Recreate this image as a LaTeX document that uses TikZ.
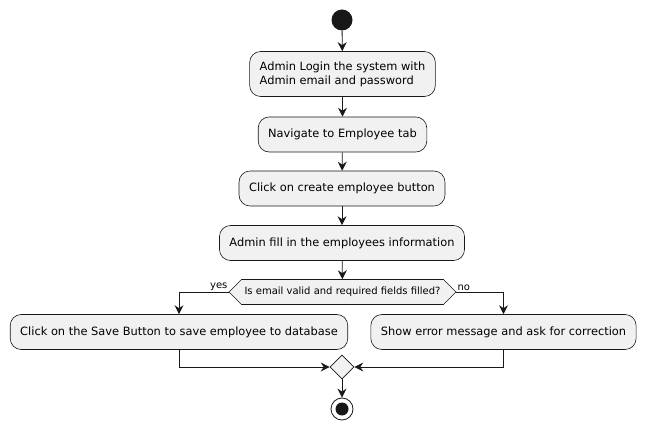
\documentclass[tikz,border=0pt]{standalone}
\usepackage{fontspec}
\setmainfont{DejaVu Sans}
\usetikzlibrary{arrows.meta,shapes.geometric,shapes.symbols}

\definecolor{actfill}{HTML}{F1F1F1}
\definecolor{actline}{HTML}{181818}

\tikzset{
  action/.style={draw=actline, fill=actfill, line width=0.6pt, rounded corners=11pt,
    minimum height=35pt, inner xsep=10pt, inner ysep=10pt, align=left, font=\fontsize{11.4}{14}\selectfont},
  choice/.style={draw=actline, fill=actfill, line width=0.6pt, shape=signal,
    signal to=west and east, minimum height=25pt, inner xsep=3pt, font=\fontsize{10}{12}\selectfont},
  merge/.style={draw=actline, fill=actfill, line width=0.6pt, diamond, inner sep=0pt,
    minimum width=24pt, minimum height=24pt},
  flow/.style={draw=actline, line width=0.8pt, -{Stealth[length=9pt,width=9pt,inset=3pt]}},
  branch/.style={font=\fontsize{10}{12}\selectfont, inner sep=1pt},
}

\begin{document}
\begin{tikzpicture}[x=1pt, y=-1pt]
    \useasboundingbox (0,0) rectangle (648,430);

    % Start point
    \node[circle, fill=actline, minimum size=21pt, inner sep=0pt] (start) at (342,20) {};

    % Actions down the middle
    \node[action] (login) at (342.5,74) {Admin Login the system with\\Admin email and password};
    \node[action] (navigate) at (342.5,134.5) {Navigate to Employee tab};
    \node[action] (create) at (342,188.5) {Click on create employee button};
    \node[action] (fill) at (342,243) {Admin fill in the employees information};

    % The check
    \node[choice] (check) at (342.5,292) {Is email valid and required fields filled?};

    % The two outcomes
    \node[action] (save) at (179,332) {Click on the Save Button to save employee to database};
    \node[action] (error) at (503.5,332) {Show error message and ask for correction};

    % Merge and stop
    \node[merge] (join) at (342,367) {};
    \node[circle, draw=actline, fill=white, line width=0.8pt, minimum size=22pt, inner sep=0pt] (stop) at (342,409) {};
    \node[circle, fill=actline, minimum size=13pt, inner sep=0pt] (stopdot) at (stop.center) {};

    % Main flow
    \draw[flow] (start) -- (login);
    \draw[flow] (login) -- (navigate);
    \draw[flow] (navigate) -- (create);
    \draw[flow] (create) -- (fill);
    \draw[flow] (fill) -- (check);

    % Branches
    \draw[flow] (check.west) -| (save.north);
    \draw[flow] (check.east) -| (error.north);
    \node[branch, anchor=south east] (yes) at (check.west) {yes};
    \node[branch, anchor=south west] (no) at (check.east) {no};

    % Back together
    \draw[flow] (save.south) |- (join.west);
    \draw[flow] (error.south) |- (join.east);
    \draw[flow] (join) -- (stop);
\end{tikzpicture}
\end{document}
